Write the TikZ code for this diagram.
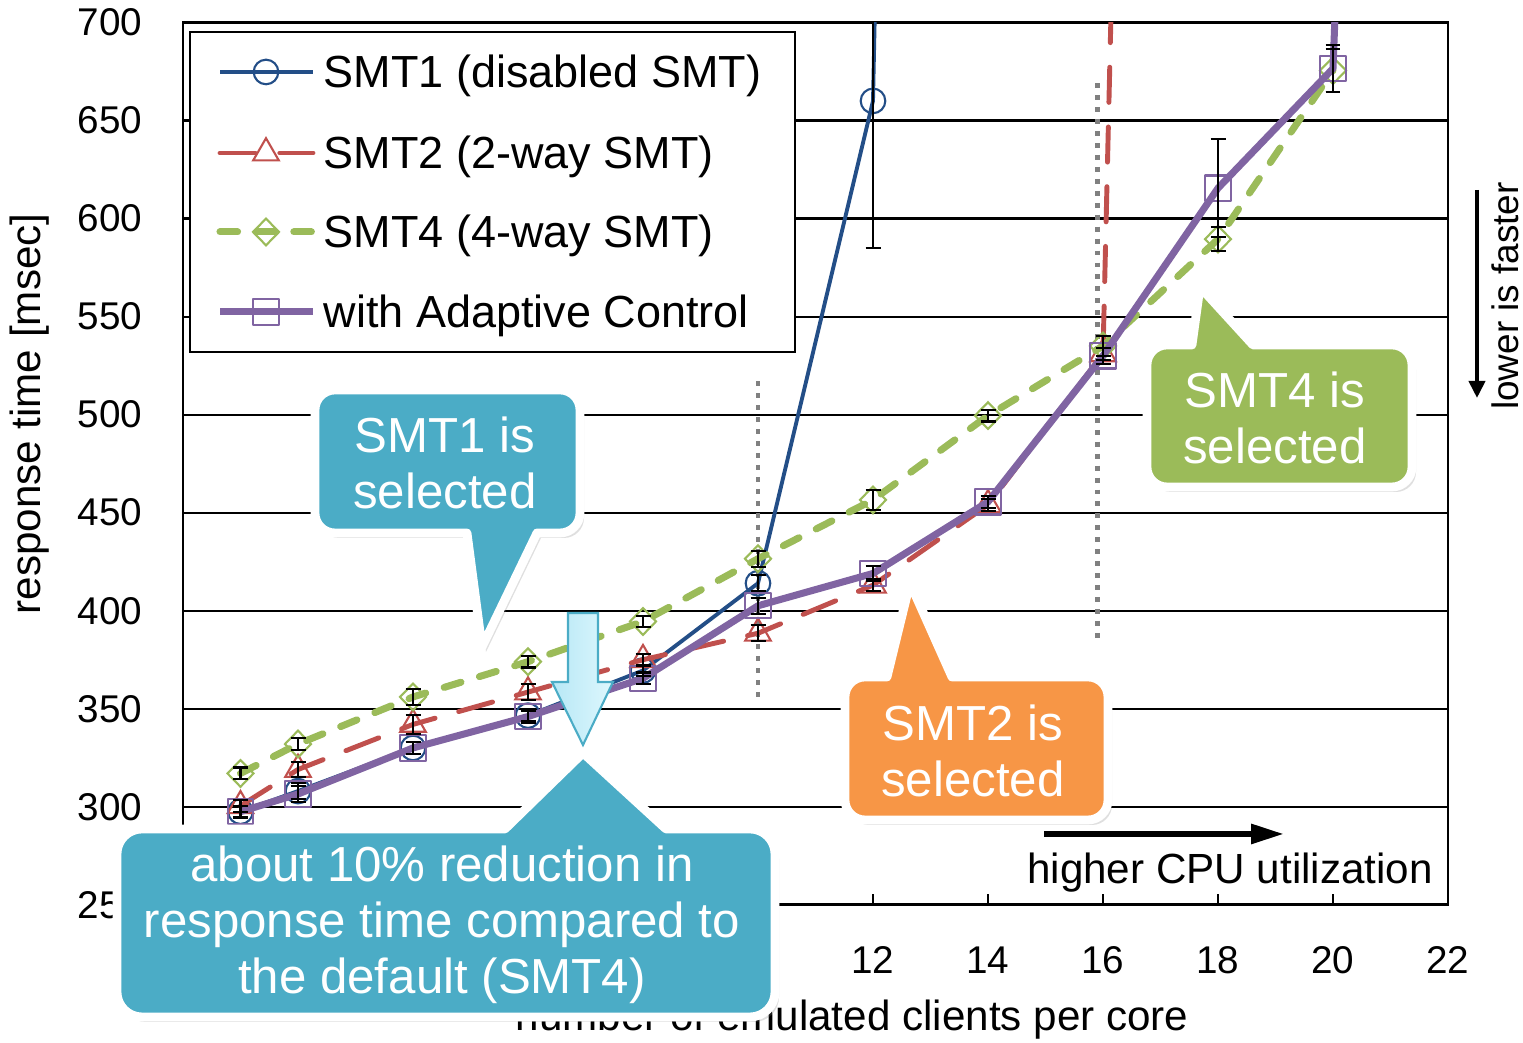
\documentclass[tikz,border=0pt]{standalone}
\usepackage{fontspec}
\setmainfont{Liberation Sans}
\usepackage{xcolor}
\usetikzlibrary{arrows.meta,plotmarks,shadows}

\definecolor{smtoneblue}{RGB}{35,78,135}
\definecolor{smttwored}{RGB}{192,80,77}
\definecolor{smtfourgreen}{RGB}{155,187,89}
\definecolor{adaptpurple}{RGB}{128,100,162}
\definecolor{calloutteal}{RGB}{75,172,198}
\definecolor{calloutorange}{RGB}{247,150,70}
\definecolor{dotgray}{RGB}{128,128,128}
\definecolor{arrowcyanl}{RGB}{183,232,246}
\definecolor{arrowcyanr}{RGB}{222,247,253}

\begin{document}
\begin{tikzpicture}[
    gridline/.style={black, line width=0.6pt},
    ticklabel/.style={font=\fontsize{11}{13}\selectfont, inner sep=0pt},
    axislabel/.style={font=\fontsize{12}{14}\selectfont, inner sep=0pt},
    selectline/.style={dotgray, line width=1.4pt, dash pattern=on 1.4pt off 2pt},
    errbar/.style={black, line width=0.6pt},
    smtone/.style={smtoneblue, line width=1.1pt, line join=round, mark=o, mark size=3.5pt, mark options={solid, line width=0.6pt}},
    smttwo/.style={smttwored, line width=1.4pt, line cap=round, dash pattern=on 10pt off 7pt, mark=triangle, mark size=4.2pt, mark options={solid, line width=0.6pt, line cap=butt}},
    smtfour/.style={smtfourgreen, line width=2pt, line cap=round, dash pattern=on 5pt off 5.5pt, mark=diamond, mark size=3.8pt, mark options={solid, line width=0.6pt, line cap=butt, xscale=1.3}},
    adaptive/.style={adaptpurple, line width=2pt, line join=round, mark=square, mark size=3.6pt, mark options={solid, line width=0.6pt}},
    legendtext/.style={font=\fontsize{12.8}{15}\selectfont, anchor=west, inner sep=0pt},
    callout/.style={draw=white, line width=2.5pt, line join=round, drop shadow={opacity=0.25, shadow xshift=0.04cm, shadow yshift=-0.05cm}},
    callouttext/.style={text=white, align=center, font=\fontsize{14}{16}\selectfont},
    notearrow/.style={line width=1.7pt, -{Triangle[length=0.33cm, width=0.19cm]}},
]

    \useasboundingbox (0,0) rectangle (15.23,10.43);

    % plot area in data units: x = clients per core, y = msec
    \begin{scope}[x=0.575cm, y=0.0196cm, shift={(1.83cm,-3.52cm)}]

        \foreach \v in {300,350,...,650}
            \draw[gridline] (0,\v) -- (22,\v);
        \draw[line width=0.8pt] (0,250) rectangle (22,700);
        \foreach \t in {2,4,...,20}
            \draw[gridline] (\t,250) -- ++(0cm,0.11cm);

        \foreach \v in {250,300,...,700}
            \node[ticklabel, anchor=east] (ylab\v) at ([xshift=-0.40cm]0,\v) {\v};
        \foreach \t in {12,14,...,22}
            \node[ticklabel] (xlab\t) at ([yshift=-0.55cm]\t,250) {\t};

        % where the controller switches
        \draw[selectline] (10,517) -- (10,355);
        \draw[selectline] (15.9,669) -- (15.9,386);

        \begin{scope}
            \clip (0,250) rectangle (22,700);

            \draw[smtone] plot coordinates {(1,297.5) (2,308) (4,330) (6,346.5) (8,369.5) (10,414) (12,660) (12.05,730)};
            \draw[smttwo] plot coordinates {(1,300.5) (2,319) (4,342) (6,358.5) (8,375) (10,388.5) (12,413) (14,454) (16,531) (16.16,730)};
            \draw[smtfour] plot coordinates {(1,317) (2,332) (4,356) (6,374) (8,394.5) (10,426.5) (12,456.5) (14,499.5) (16,535) (18,589.5) (20,675.5)};
            \draw[adaptive] plot coordinates {(1,297.5) (2,306.5) (4,330) (6,346) (8,365.5) (10,402.5) (12,419) (14,455.5) (16,530) (18,615.5) (20,676.5) (20.07,730)};

            % error bars
            \foreach \x/\y/\e in {1/297.5/3, 2/308/4, 4/330/3, 6/346.5/3, 8/369.5/3, 10/414/4, 12/660/75,
                                  1/300.5/3, 2/319/4, 4/342/5, 6/358.5/4, 8/375/3, 10/388.5/4, 12/413/3, 14/454/3, 16/531/3,
                                  1/317/3, 2/332/3, 4/356/4, 6/374/3, 8/394.5/3, 10/426.5/4, 12/456.5/5, 14/499.5/3, 16/535/5, 18/589.5/6, 20/675.5/11,
                                  1/297.5/3, 2/306.5/4, 4/330/3, 6/346/3, 8/365.5/3, 10/402.5/4, 12/419/4, 14/455.5/3, 16/530/4, 18/615.5/25, 20/676.5/12}
                \draw[errbar] (\x,\y-\e) -- (\x,\y+\e)
                    ([xshift=-0.075cm]\x,\y-\e) -- ([xshift=0.075cm]\x,\y-\e)
                    ([xshift=-0.075cm]\x,\y+\e) -- ([xshift=0.075cm]\x,\y+\e);
        \end{scope}
    \end{scope}

    \node[axislabel, rotate=90] (ylabel) at (0.30,6.29) {response time [msec]};
    \node[axislabel] (xlabel) at (8.52,0.23) {number of emulated clients per core};

    % legend
    \draw[fill=white, line width=0.6pt] (1.90,10.11) rectangle (7.95,6.91);
    \draw[smtone] plot[mark indices={2}] coordinates {(2.20,9.71) (2.66,9.71) (3.13,9.71)};
    \draw[smttwo] plot[mark indices={2}] coordinates {(2.20,8.90) (2.66,8.90) (3.13,8.90)};
    \draw[smtfour] plot[mark indices={2}] coordinates {(2.20,8.11) (2.66,8.11) (3.13,8.11)};
    \draw[adaptive] plot[mark indices={2}] coordinates {(2.20,7.31) (2.66,7.31) (3.13,7.31)};
    \node[legendtext] (legone) at (3.23,9.67) {SMT1 (disabled SMT)};
    \node[legendtext] (legtwo) at (3.23,8.86) {SMT2 (2-way SMT)};
    \node[legendtext] (legfour) at (3.23,8.07) {SMT4 (4-way SMT)};
    \node[legendtext] (legadapt) at (3.23,7.27) {with Adaptive Control};

    % direction notes
    \coordinate (cpustart) at (10.44,2.09);
    \coordinate (cpuend) at (12.84,2.09);
    \draw[notearrow] (cpustart) -- (cpuend);
    \node[font=\fontsize{12}{14}\selectfont, inner sep=0pt] (cpu) at (12.30,1.70) {higher CPU utilization};

    \coordinate (faststart) at (14.77,8.53);
    \coordinate (fastend) at (14.77,6.45);
    \draw[line width=1.1pt, -{Triangle[length=0.17cm, width=0.16cm]}] (faststart) -- (fastend);
    \node[font=\fontsize{10.5}{12}\selectfont, inner sep=0pt, rotate=90] (faster) at (15.05,7.47) {lower is faster};

    % callouts
    \path[callout, fill=calloutteal] (3.35,6.53) -- (5.60,6.53) arc[start angle=90, end angle=0, radius=0.2]
        -- (5.80,5.30) arc[start angle=0, end angle=-90, radius=0.2] -- (5.37,5.10) -- (4.82,3.96) -- (4.67,5.10)
        -- (3.35,5.10) arc[start angle=270, end angle=180, radius=0.2] -- (3.15,6.33) arc[start angle=180, end angle=90, radius=0.2] -- cycle;
    \node[callouttext] (selone) at (4.45,5.80) {SMT1 is\\selected};

    \path[callout, fill=calloutorange] (8.65,3.66) -- (8.87,3.66) -- (9.10,4.60) -- (9.52,3.66)
        -- (10.88,3.66) arc[start angle=90, end angle=0, radius=0.2] -- (11.08,2.43) arc[start angle=0, end angle=-90, radius=0.2]
        -- (8.65,2.23) arc[start angle=270, end angle=180, radius=0.2] -- (8.45,3.46) arc[start angle=180, end angle=90, radius=0.2] -- cycle;
    \node[callouttext] (seltwo) at (9.73,2.92) {SMT2 is\\selected};

    \path[callout, fill=smtfourgreen] (11.67,6.98) -- (11.92,6.98) -- (12.00,7.56) -- (12.53,6.98)
        -- (13.92,6.98) arc[start angle=90, end angle=0, radius=0.2] -- (14.12,5.76) arc[start angle=0, end angle=-90, radius=0.2]
        -- (11.67,5.56) arc[start angle=270, end angle=180, radius=0.2] -- (11.47,6.78) arc[start angle=180, end angle=90, radius=0.2] -- cycle;
    \node[callouttext] (selfour) at (12.75,6.25) {SMT4 is\\selected};

    \path[callout, fill=calloutteal] (1.42,2.14) -- (5.05,2.14) -- (5.83,2.90) -- (6.66,2.14)
        -- (7.50,2.14) arc[start angle=90, end angle=0, radius=0.25] -- (7.75,0.51) arc[start angle=0, end angle=-90, radius=0.25]
        -- (1.42,0.26) arc[start angle=270, end angle=180, radius=0.25] -- (1.17,1.89) arc[start angle=180, end angle=90, radius=0.25] -- cycle;
    \node[callouttext] (reduction) at (4.42,1.18) {about 10\% reduction in\\response time compared to\\the default (SMT4)};

    % block arrow
    \draw[draw=calloutteal, line width=0.6pt, left color=arrowcyanl, right color=arrowcyanr]
        (5.68,4.30) -- (5.98,4.30) -- (5.98,3.61) -- (6.13,3.61) -- (5.83,2.98) -- (5.52,3.61) -- (5.68,3.61) -- cycle;

\end{tikzpicture}
\end{document}
